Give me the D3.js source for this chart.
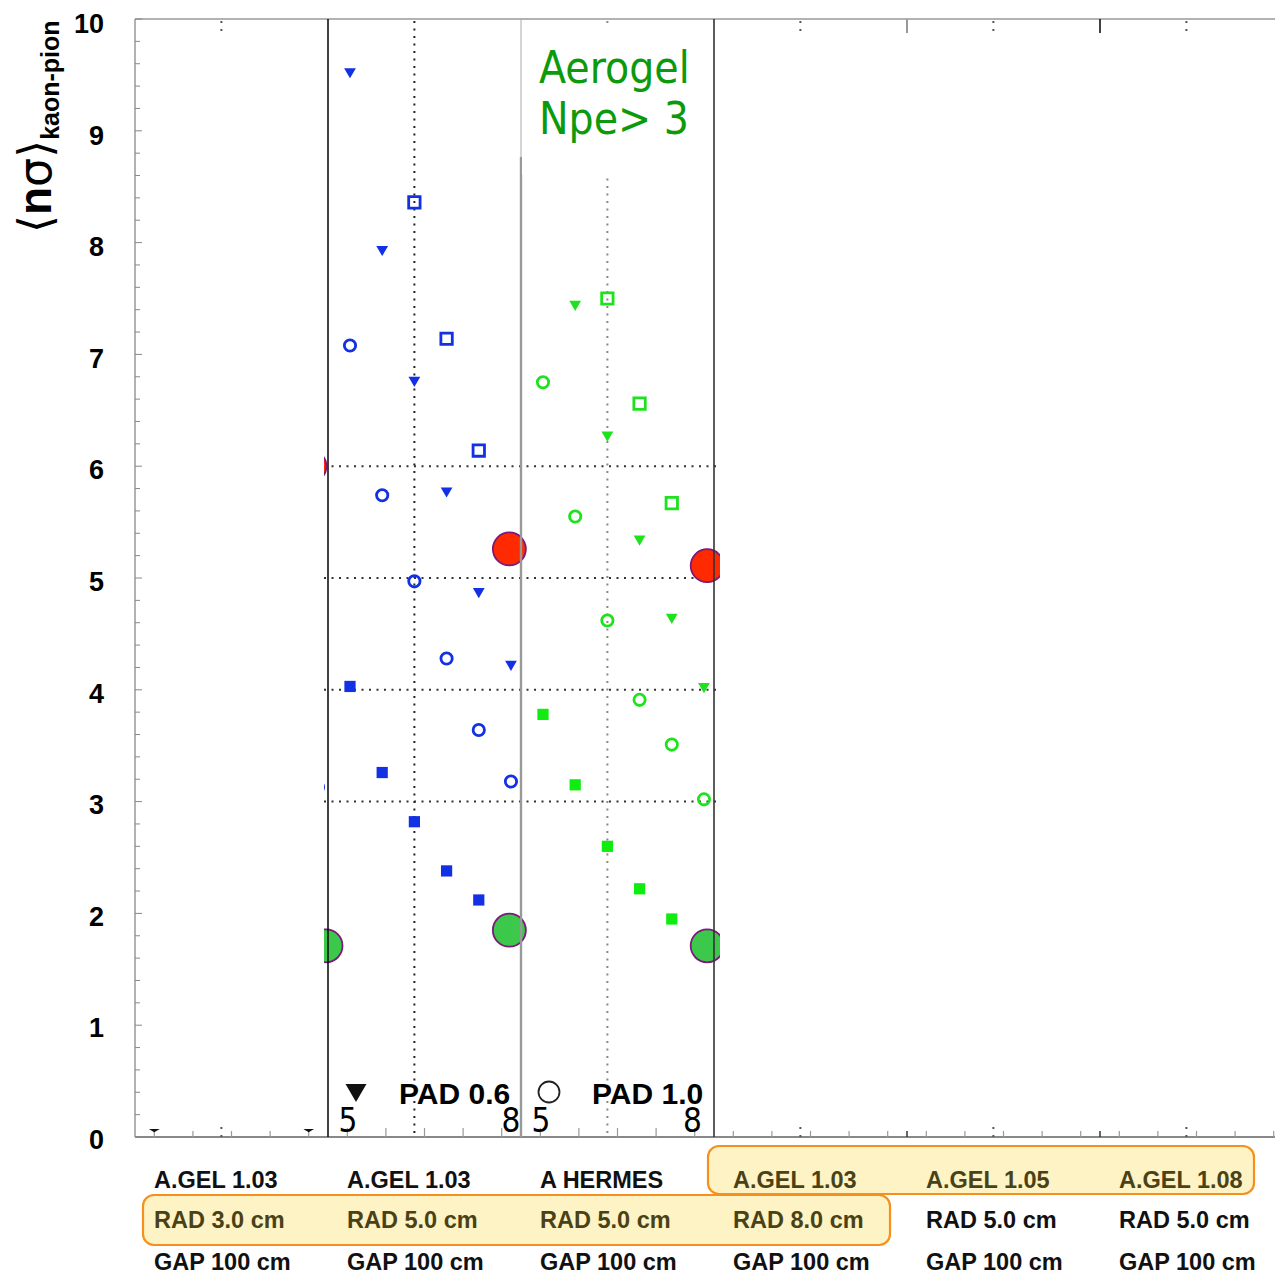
<!DOCTYPE html>
<html><head><meta charset="utf-8">
<script src="https://cdn.jsdelivr.net/npm/d3@7"></script>
<style>
body{margin:0;background:#fff}
.bold{font-family:"Liberation Sans",Arial,sans-serif;font-weight:bold}
.cond{font-family:"DejaVu Sans Condensed","DejaVu Sans",sans-serif;font-stretch:condensed}
</style>
</head><body>
<svg id="chart" width="1275" height="1275"></svg>
<script>
// ---- data -------------------------------------------------------------
const momenta = [5.0, 5.6, 6.2, 6.8, 7.4, 8.0];
const yTickValues = [0, 1, 2, 3, 4, 5, 6, 7, 8, 9, 10];
const gridValues = [3, 4, 5, 6];
const momentumTickLabels = ["5", "8"];

// RAD 5.0 cm, A.GEL 1.03 (blue)
const blueTriangle     = [9.53, 7.94, 6.77, 5.78, 4.88, 4.23];
const blueOpenSquare   = [null, null, 8.36, 7.14, 6.14, null];
const blueOpenCircle   = [7.08, 5.74, 4.97, 4.28, 3.64, 3.18];
const blueFilledSquare = [4.03, 3.26, 2.82, 2.38, 2.12, null];
// RAD 3.0 cm panel, open circle
const leftOpenCircle   = [null, null, null, null, null, 3.13];
// A HERMES (green)
const greenTriangle     = [null, 7.45, 6.28, 5.35, 4.65, 4.03];
const greenOpenSquare   = [null, null, 7.50, 6.56, 5.67, null];
const greenOpenCircle   = [6.75, 5.55, 4.62, 3.91, 3.51, 3.02];
const greenFilledSquare = [3.78, 3.15, 2.60, 2.22, 1.95, null];

// summary points per panel
const redSummary      = [6.00, 5.26, 5.11];
const redMomentum     = [7.85, 7.97, 8.06];
const greenSummary    = [1.71, 1.85, 1.71];
const greenMomentum   = [8.15, 7.97, 8.06];

// configuration table under the axis
const aerogelRow  = ["A.GEL 1.03", "A.GEL 1.03", "A HERMES", "A.GEL 1.03", "A.GEL 1.05", "A.GEL 1.08"];
const radiatorRow = ["RAD 3.0 cm", "RAD 5.0 cm", "RAD 5.0 cm", "RAD 8.0 cm", "RAD 5.0 cm", "RAD 5.0 cm"];
const gapRow      = ["GAP 100 cm", "GAP 100 cm", "GAP 100 cm", "GAP 100 cm", "GAP 100 cm", "GAP 100 cm"];
const aerogelHighlight  = [3, 5];
const radiatorHighlight = [0, 3];

// ---- layout -----------------------------------------------------------
const svg = d3.select("#chart");
const plotLeft = 135, plotTop = 19, plotBottom = 1137, panelW = 193, nPanels = 6;
const panelX = d3.scaleLinear().domain([0, nPanels]).range([plotLeft, plotLeft + panelW * nPanels]);
const inner = d3.scaleLinear().domain([4.59, 8.187]).range([0, panelW]);
const y = d3.scaleLinear().domain([0, 10]).range([plotBottom, plotTop]);
const yLabel = d3.scaleLinear().domain([0, 10]).range([1139, 23]);
const px = (p, m) => panelX(p) + inner(m);

const BLUE = "#1230e4", GREEN = "#1ee21e", GREEN_F = "#10ec10";
const RED = "#ff2a00", BIG_GREEN = "#3cc84b", PURPLE = "#7a1a7a";

// ---- frame ------------------------------------------------------------
svg.append("line").attr("x1", plotLeft).attr("x2", 1275).attr("y1", plotTop).attr("y2", plotTop)
  .attr("stroke", "#999").attr("stroke-width", 1.5);
svg.append("line").attr("x1", plotLeft).attr("x2", 1275).attr("y1", plotBottom).attr("y2", plotBottom)
  .attr("stroke", "#888").attr("stroke-width", 2);
svg.append("line").attr("x1", plotLeft).attr("x2", plotLeft).attr("y1", plotTop).attr("y2", plotBottom)
  .attr("stroke", "#999").attr("stroke-width", 1.5);

// left axis ticks every 0.2
const minorY = d3.range(0, 10.001, 0.2);
svg.append("g").selectAll("line").data(minorY).join("line")
  .attr("x1", plotLeft).attr("x2", d => plotLeft + (Math.abs(d - Math.round(d)) < 1e-6 ? 7 : 5))
  .attr("y1", d => y(d)).attr("y2", d => y(d))
  .attr("stroke", "#888").attr("stroke-width", 1);

svg.append("g").selectAll("text").data(yTickValues).join("text")
  .attr("class", "bold").attr("font-size", 27).attr("text-anchor", "end")
  .attr("x", 104).attr("y", d => yLabel(d) + 10).text(d => d);

// bottom axis ticks at 0.1, 0.3, ... of each panel
const tickFr = [0.1, 0.3, 0.5, 0.7, 0.9];
for (let p = 0; p < nPanels; p++) {
  const len = (p === 1 || p === 2) ? 9 : 6;
  svg.append("g").selectAll("line").data(tickFr).join("line")
    .attr("x1", d => panelX(p + d)).attr("x2", d => panelX(p + d))
    .attr("y1", plotBottom).attr("y2", plotBottom - len)
    .attr("stroke", "#999").attr("stroke-width", 1.2);
}
// small capped ticks in the first panel
svg.append("g").selectAll("path").data([0.1, 0.9]).join("path")
  .attr("d", d3.symbol(d3.symbolTriangle, 30))
  .attr("transform", d => `translate(${panelX(d)},${plotBottom - 7}) rotate(180) scale(1.3,0.45)`)
  .attr("fill", "#111");

// dotted stubs at the 6.2 momentum position in every panel
for (let p = 0; p < nPanels; p++) {
  if (p === 1 || p === 2) continue;
  const xs = px(p, momenta[2]);
  [[plotTop + 2, plotTop + 16], [plotBottom - 10, plotBottom]].forEach(([a, b]) => {
    svg.append("line").attr("x1", xs).attr("x2", xs).attr("y1", a).attr("y2", b)
      .attr("stroke", "#555").attr("stroke-width", 2).attr("stroke-dasharray", "2,6");
  });
}

// full dotted verticals in the two data panels
[[1, "#222"], [2, "#888"]].forEach(([p, c]) => {
  const xs = px(p, momenta[2]);
  svg.append("line").attr("x1", xs).attr("x2", xs).attr("y1", plotTop + 2).attr("y2", plotBottom)
    .attr("stroke", c).attr("stroke-width", 2).attr("stroke-dasharray", "2,5.5");
});

// ---- data layer (clipped) ----------------------------------------------
const clipL = panelX(1) - 4, clipR = panelX(3) + 6;
svg.append("clipPath").attr("id", "dataClip").append("rect")
  .attr("x", clipL).attr("y", plotTop).attr("width", clipR - clipL).attr("height", plotBottom - plotTop);
const dataLayer = svg.append("g").attr("clip-path", "url(#dataClip)");

dataLayer.append("g").selectAll("line").data(gridValues).join("line")
  .attr("x1", clipL).attr("x2", clipR).attr("y1", d => y(d)).attr("y2", d => y(d))
  .attr("stroke", "#333").attr("stroke-width", 2).attr("stroke-dasharray", "2,5.5");

const series = [
  {panel: 1, values: blueTriangle, kind: "tri", color: BLUE},
  {panel: 1, values: blueOpenSquare, kind: "osq", color: BLUE},
  {panel: 1, values: blueOpenCircle, kind: "oci", color: BLUE},
  {panel: 1, values: blueFilledSquare, kind: "fsq", color: BLUE},
  {panel: 0, values: leftOpenCircle, kind: "oci", color: BLUE},
  {panel: 2, values: greenTriangle, kind: "tri", color: GREEN},
  {panel: 2, values: greenOpenSquare, kind: "osq", color: GREEN},
  {panel: 2, values: greenOpenCircle, kind: "oci", color: GREEN},
  {panel: 2, values: greenFilledSquare, kind: "fsq", color: GREEN_F},
];
const symbolFor = {
  tri: d3.symbol(d3.symbolTriangle, 60)(),
  osq: d3.symbol(d3.symbolSquare, 130)(),
  oci: d3.symbol(d3.symbolCircle, 100)(),
  fsq: d3.symbol(d3.symbolSquare, 126)(),
};
series.forEach(s => {
  const pts = s.values.map((v, i) => ({v, m: momenta[i]})).filter(d => d.v != null);
  const filled = s.kind === "tri" || s.kind === "fsq";
  dataLayer.append("g").selectAll("path").data(pts).join("path")
    .attr("d", symbolFor[s.kind])
    .attr("transform", d => `translate(${px(s.panel, d.m)},${y(d.v)})${s.kind === "tri" ? " rotate(180)" : ""}`)
    .attr("fill", filled ? s.color : "none")
    .attr("stroke", filled ? "none" : s.color)
    .attr("stroke-width", 2.8);
});

[[redSummary, redMomentum, RED], [greenSummary, greenMomentum, BIG_GREEN]].forEach(([vals, ms, col]) => {
  dataLayer.append("g").selectAll("circle").data(vals.map((v, p) => ({v, m: ms[p], p}))).join("circle")
    .attr("cx", d => px(d.p, d.m)).attr("cy", d => y(d.v)).attr("r", 16.5)
    .attr("fill", col).attr("stroke", PURPLE).attr("stroke-width", 1.8);
});

// ---- panel separators ---------------------------------------------------
svg.append("line").attr("x1", panelX(1)).attr("x2", panelX(1)).attr("y1", plotTop).attr("y2", plotBottom)
  .attr("stroke", "#111").attr("stroke-width", 1.6);
svg.append("line").attr("x1", panelX(3)).attr("x2", panelX(3)).attr("y1", plotTop).attr("y2", plotBottom)
  .attr("stroke", "#333").attr("stroke-width", 1.6);
svg.append("line").attr("x1", panelX(2)).attr("x2", panelX(2)).attr("y1", 157).attr("y2", plotBottom)
  .attr("stroke", "#999").attr("stroke-width", 2.4);
svg.append("line").attr("x1", panelX(4)).attr("x2", panelX(4)).attr("y1", plotTop).attr("y2", plotTop + 14)
  .attr("stroke", "#999").attr("stroke-width", 2);
svg.append("line").attr("x1", panelX(5)).attr("x2", panelX(5)).attr("y1", plotTop).attr("y2", plotTop + 14)
  .attr("stroke", "#111").attr("stroke-width", 1.6);
[4, 5].forEach(p => {
  svg.append("line").attr("x1", panelX(p)).attr("x2", panelX(p)).attr("y1", plotBottom).attr("y2", plotBottom - 6)
    .attr("stroke", "#333").attr("stroke-width", 1.5);
});

// ---- label box ----------------------------------------------------------
svg.append("rect").attr("x", panelX(2) + 1).attr("y", plotTop + 8)
  .attr("width", panelW - 2.5).attr("height", 148).attr("fill", "#fff");
svg.append("line").attr("x1", panelX(2)).attr("x2", panelX(2)).attr("y1", plotTop).attr("y2", 157)
  .attr("stroke", "#aaa").attr("stroke-width", 1);
const boxText = svg.append("text").attr("class", "cond").attr("fill", "#0c9a0c").attr("font-size", 44);
boxText.append("tspan").attr("x", panelX(2) + 18).attr("y", 83).text("Aerogel");
boxText.append("tspan").attr("x", panelX(2) + 18).attr("y", 134).text("Npe> 3");

// ---- momentum labels ------------------------------------------------------
[[1, "middle", "middle"], [2, "middle", "end"]].forEach(([p, a0, a1]) => {
  svg.append("text").attr("class", "cond").attr("font-size", 33).attr("text-anchor", a0)
    .attr("x", px(p, momenta[0]) - 2).attr("y", 1132).text(momentumTickLabels[0]);
  svg.append("text").attr("class", "cond").attr("font-size", 33).attr("text-anchor", a1)
    .attr("x", px(p, momenta[5]) + (a1 === "end" ? -2 : 0)).attr("y", 1132).text(momentumTickLabels[1]);
});

// ---- legend ---------------------------------------------------------------
svg.append("path").attr("d", d3.symbol(d3.symbolTriangle, 190)())
  .attr("transform", "translate(356,1090) rotate(180)").attr("fill", "#111");
svg.append("text").attr("class", "bold").attr("font-size", 30).attr("x", 399).attr("y", 1104).text("PAD 0.6");
svg.append("circle").attr("cx", 549).attr("cy", 1092).attr("r", 10.5)
  .attr("fill", "none").attr("stroke", "#222").attr("stroke-width", 1.8);
svg.append("text").attr("class", "bold").attr("font-size", 30).attr("x", 592).attr("y", 1104).text("PAD 1.0");

// ---- y title ----------------------------------------------------------------
const title = svg.append("text").attr("transform", "translate(51,233) rotate(-90)").attr("font-size", 46);
title.append("tspan").attr("font-family", "DejaVu Sans").attr("font-weight", "normal").text("\u27E8");
title.append("tspan").attr("class", "bold").text("n");
title.append("tspan").attr("font-family", "DejaVu Sans").text("\u03C3");
title.append("tspan").attr("font-family", "DejaVu Sans").text("\u27E9");
title.append("tspan").attr("class", "bold").attr("font-size", 25).attr("dy", 8).text("kaon-pion");

// ---- configuration table ------------------------------------------------------
const rowBaseline = [1188, 1228, 1270];
const boxes = [
  {row: 0, span: aerogelHighlight, x0: -6, x1: 154, y0: 1146, y1: 1194},
  {row: 1, span: radiatorHighlight, x0: 8, x1: 176, y0: 1195, y1: 1245},
];
boxes.forEach(b => {
  svg.append("rect")
    .attr("x", panelX(b.span[0]) + b.x0).attr("y", b.y0)
    .attr("width", panelX(b.span[1]) + b.x1 - panelX(b.span[0]) - b.x0).attr("height", b.y1 - b.y0)
    .attr("rx", 11).attr("fill", "#fdf3c4").attr("stroke", "#f5901e").attr("stroke-width", 2.2);
});
[aerogelRow, radiatorRow, gapRow].forEach((row, r) => {
  const hl = boxes.find(b => b.row === r);
  svg.append("g").selectAll("text").data(row).join("text")
    .attr("class", "bold").attr("font-size", 23.5)
    .attr("x", (d, i) => panelX(i) + 19).attr("y", rowBaseline[r])
    .attr("fill", (d, i) => hl && i >= hl.span[0] && i <= hl.span[1] ? "#4a4216" : "#111")
    .text(d => d);
});
</script>
</body></html>
